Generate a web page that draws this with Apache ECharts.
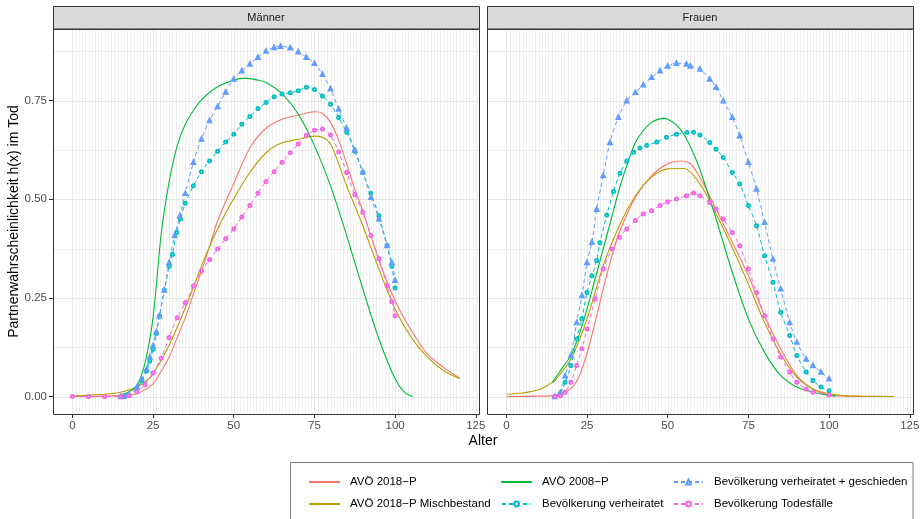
<!DOCTYPE html>
<html><head><meta charset="utf-8">
<script src="https://cdn.jsdelivr.net/npm/echarts@6/dist/echarts.min.js"></script>
<style>html,body{margin:0;padding:0;background:#fff}#c{width:920px;height:519px}</style>
</head><body><div id="c"></div>
<script>
// ---------- data ----------
const panels = ['Männer', 'Frauen'];
const seriesNames = ['AVÖ 2018−P', 'AVÖ 2018−P Mischbestand', 'AVÖ 2008−P',
  'Bevölkerung verheiratet', 'Bevölkerung verheiratet + geschieden', 'Bevölkerung Todesfälle'];
const seriesColors = ['#F8766D', '#B79F00', '#00BA38', '#00BFC4', '#619CFF', '#F564E3'];
const xTicks = [0, 25, 50, 75, 100, 125];
const xTickLabels = ['0', '25', '50', '75', '100', '125'];
const yTicks = [0, 0.25, 0.5, 0.75];
const yTickLabels = ['0.00', '0.25', '0.50', '0.75'];
const yMinorTicks = [0.125, 0.375, 0.625, 0.875];
const xMinorBreaks = Array.from({length: 126}, (_, i) => i); // one fine grid line per year (0..125)

// Männer  [Alter, h(x)]
const m_avo2018 = [[0,0],[10,0.001],[15,0.003],[20,0.007],[23,0.02],[25,0.032],[27,0.057],[30,0.1],[32.5,0.15],[35,0.2],[37.5,0.26],[40,0.318],[42.5,0.38],[45,0.445],[50,0.54],[55,0.63],[60,0.68],[65,0.703],[70,0.713],[75,0.722],[77.5,0.718],[80,0.695],[82.5,0.65],[85,0.59],[87.5,0.525],[90,0.47],[95,0.345],[100,0.243],[105,0.168],[110,0.108],[115,0.074],[120,0.047]];
const m_avo2018m = [[0,0.002],[10,0.006],[15,0.011],[20,0.024],[23,0.04],[25,0.057],[30,0.13],[35,0.225],[40,0.33],[42.5,0.38],[45,0.425],[50,0.502],[55,0.568],[60,0.618],[65,0.643],[70,0.652],[75,0.66],[77.5,0.657],[80,0.64],[82.5,0.59],[85,0.534],[90,0.433],[95,0.323],[100,0.222],[105,0.15],[110,0.1],[115,0.066],[120,0.045]];
const m_avo2008 = [[15,0.004],[17.5,0.012],[20,0.028],[22.5,0.085],[25,0.2],[27.5,0.41],[30,0.545],[32.5,0.636],[35,0.69],[37.5,0.725],[40,0.752],[45,0.785],[50,0.802],[53.5,0.807],[57.5,0.802],[60,0.796],[65,0.767],[70,0.716],[75,0.636],[80,0.534],[85,0.408],[90,0.273],[95,0.146],[100,0.045],[103,0.01],[105.5,0]];
const m_verh = [[15,0],[16,0.001],[17.5,0.004],[20,0.02],[21.5,0.04],[23,0.065],[24,0.09],[25,0.12],[26,0.16],[27,0.205],[28.5,0.27],[30,0.33],[31,0.36],[32.3,0.416],[33.5,0.45],[35,0.49],[37.5,0.534],[40,0.57],[42.5,0.597],[45,0.622],[47.5,0.645],[50,0.665],[52.5,0.69],[55,0.71],[57.5,0.73],[60,0.745],[62.5,0.76],[65,0.767],[67.5,0.77],[70,0.775],[72.5,0.784],[75,0.778],[77.5,0.762],[80,0.741],[82.5,0.707],[85,0.67],[87.5,0.622],[90,0.568],[92.5,0.515],[95,0.458],[97.5,0.383],[99,0.33],[100,0.275]];
const m_verhg = [[15,0],[16,0.001],[17.5,0.005],[20,0.024],[21.5,0.045],[23,0.07],[24,0.1],[25,0.129],[26,0.165],[27,0.205],[28.5,0.27],[30,0.34],[31.7,0.408],[33.3,0.458],[35,0.515],[37.5,0.594],[40,0.653],[42.5,0.7],[45,0.735],[47.5,0.772],[50,0.805],[52.5,0.826],[55,0.843],[57.5,0.86],[60,0.876],[62.5,0.885],[64.5,0.888],[67.5,0.884],[70,0.874],[72.5,0.86],[75,0.845],[77.5,0.817],[80,0.78],[82.5,0.729],[85,0.68],[87.5,0.625],[90,0.57],[92.5,0.505],[95,0.45],[97.5,0.383],[99,0.34],[100,0.295]];
const m_tod = [[0,0],[5,0],[10,0],[15,0],[17.5,0.002],[20,0.012],[22.5,0.03],[25,0.06],[27.5,0.097],[30,0.15],[32.5,0.2],[35,0.238],[37.5,0.28],[40,0.318],[42.5,0.347],[45,0.374],[47.5,0.4],[50,0.425],[52.5,0.455],[55,0.484],[57.5,0.515],[60,0.545],[62.5,0.57],[65,0.594],[67.5,0.618],[70,0.64],[72.5,0.662],[75,0.675],[77.5,0.678],[80,0.663],[82.5,0.62],[85,0.568],[87.5,0.512],[90,0.467],[92.5,0.408],[95,0.349],[97.5,0.281],[99,0.24],[100,0.205]];

// Frauen  [Alter, h(x)]
const f_avo2018 = [[0,0],[10,0.001],[15,0.003],[20,0.02],[22.5,0.05],[25,0.11],[27.5,0.188],[30,0.273],[32.5,0.35],[35,0.416],[40,0.505],[45,0.56],[50,0.59],[54,0.597],[57,0.59],[60,0.555],[65,0.475],[70,0.391],[75,0.306],[80,0.205],[85,0.121],[90,0.053],[95,0.019],[100,0.004],[105,0.001],[110,0],[120,0]];
const f_avo2018m = [[0,0.006],[5,0.009],[10,0.017],[14,0.035],[15,0.04],[20,0.095],[25,0.197],[30,0.332],[35,0.433],[40,0.509],[45,0.556],[50,0.577],[55,0.578],[60,0.539],[65,0.463],[70,0.378],[75,0.285],[80,0.188],[85,0.108],[90,0.049],[95,0.019],[100,0.007],[105,0.002],[110,0.001],[120,0]];
const f_avo2008 = [[14.2,0.035],[15,0.045],[16.7,0.065],[18,0.08],[20,0.104],[22.5,0.155],[25,0.222],[27.5,0.298],[30,0.374],[32.5,0.45],[35,0.526],[37.5,0.59],[40,0.644],[42.5,0.675],[45,0.695],[48.7,0.705],[50,0.703],[52.5,0.69],[55,0.665],[57.5,0.625],[60,0.575],[65,0.45],[70,0.315],[75,0.197],[80,0.112],[85,0.053],[90,0.024],[95,0.011],[100,0.003],[102,0.001]];
const f_verh = [[15,0],[16.7,0.007],[18.2,0.036],[20,0.079],[21.8,0.146],[23.4,0.197],[25,0.264],[26.5,0.306],[28,0.345],[29,0.39],[31.1,0.46],[33.2,0.52],[35.2,0.566],[37.3,0.597],[39.4,0.619],[41.4,0.63],[43.5,0.637],[46.6,0.645],[49.6,0.657],[52.7,0.665],[56,0.669],[58,0.67],[60,0.663],[63,0.644],[65,0.627],[67.2,0.606],[70,0.568],[72.3,0.539],[75,0.484],[77.5,0.433],[80,0.357],[82.6,0.29],[85,0.214],[87.8,0.155],[90,0.104],[92.9,0.062],[95,0.041],[97.5,0.024],[100,0.015]];
const f_verhg = [[15,0],[16.7,0.01],[18.2,0.053],[20,0.104],[21.8,0.188],[23.4,0.256],[25,0.34],[26.5,0.391],[28,0.475],[30,0.56],[32.1,0.644],[34.7,0.708],[37.3,0.75],[40,0.771],[42.4,0.79],[45,0.809],[47.6,0.826],[50,0.838],[52.7,0.845],[55.8,0.843],[57,0.838],[60,0.83],[63,0.805],[65,0.784],[67.2,0.75],[70,0.708],[72.3,0.661],[75,0.594],[77.5,0.526],[80,0.442],[82.6,0.349],[85,0.273],[87.8,0.188],[90,0.138],[92.9,0.095],[95,0.079],[97.5,0.062],[100,0.045]];
const f_tod = [[15,0],[16.7,0.002],[18.2,0.011],[20,0.036],[21.8,0.079],[23.4,0.121],[25,0.171],[27.5,0.247],[30,0.323],[32.7,0.374],[35,0.404],[37.3,0.425],[40,0.446],[42.4,0.463],[45,0.471],[47.6,0.484],[50,0.494],[52.7,0.501],[55.8,0.509],[58,0.516],[60,0.509],[63,0.492],[65,0.475],[67.2,0.45],[70,0.416],[72.3,0.382],[75,0.323],[77.5,0.264],[80,0.205],[82.6,0.146],[85,0.1],[87.8,0.062],[90,0.036],[92.9,0.019],[95,0.011],[100,0.004]];

const panelData = [
  [m_avo2018, m_avo2018m, m_avo2008, m_verh, m_verhg, m_tod],
  [f_avo2018, f_avo2018m, f_avo2008, f_verh, f_verhg, f_tod]
];

// ---------- layout ----------
const FONT = '"Liberation Sans", Arial, Helvetica, sans-serif';
const X_MIN = -6, X_MAX = 126, Y_MIN = -0.0442, Y_MAX = 0.9316;
const gridBoxes = [
  {left: 53, top: 29, width: 426, height: 385},
  {left: 487, top: 29, width: 426, height: 385}
];
const lineKinds = ['solid', 'solid', 'solid', 'dashed', 'dashed', 'dashed'];
const symbols = ['none', 'none', 'none', 'emptyCircle', 'emptyTriangle', 'emptyCircle'];
const symbolSizes = [0, 0, 0, 3, 3.5, 3];

const chart = echarts.init(document.getElementById('c'), null, {renderer: 'canvas'});

const grids = gridBoxes.map(g => Object.assign({show: false, outerBoundsMode: 'none', containLabel: false}, g));
const xAxes = [], yAxes = [];
gridBoxes.forEach((g, i) => {
  xAxes.push({
    type: 'value', gridIndex: i, min: X_MIN, max: X_MAX, position: 'bottom',
    axisLine: {show: false, onZero: false},
    axisTick: {show: true, length: 4, customValues: xTicks, lineStyle: {color: '#333333', width: 1}},
    axisLabel: {show: true, customValues: xTicks, margin: 6, color: '#4d4d4d', fontSize: 11.5, fontFamily: FONT,
      formatter: v => xTickLabels[xTicks.indexOf(v)]},
    splitLine: {show: false}, minorSplitLine: {show: false}
  });
  yAxes.push({
    type: 'value', gridIndex: i, min: Y_MIN, max: Y_MAX, position: 'left',
    axisLine: {show: false, onZero: false},
    axisTick: {show: i === 0, length: 4, customValues: yTicks, lineStyle: {color: '#333333', width: 1}},
    axisLabel: {show: i === 0, customValues: yTicks, margin: 6, color: '#4d4d4d', fontSize: 11.5, fontFamily: FONT,
      formatter: v => yTickLabels[yTicks.indexOf(v)]},
    splitLine: {show: false}, minorSplitLine: {show: false}
  });
});

const series = [];
const hLines = yTicks.map(v => [0, v, 1]).concat(yMinorTicks.map(v => [0, v, 0]));
const vLines = xMinorBreaks.map(v => [v, 0, xTicks.indexOf(v) >= 0 ? 1 : 0]);
gridBoxes.forEach((g, p) => {
  series.push({
    type: 'custom', xAxisIndex: p, yAxisIndex: p, silent: true, z: 1, data: vLines, animation: false,
    renderItem: (params, api) => {
      const cs = params.coordSys;
      const x = Math.round(api.coord([api.value(0), 0])[0]) + 0.5;
      return {type: 'line', shape: {x1: x, y1: cs.y + 1, x2: x, y2: cs.y + cs.height - 1},
        style: {stroke: api.value(2) ? '#e8e8e8' : '#f0f0f0', lineWidth: 1}};
    }
  });
  series.push({
    type: 'custom', xAxisIndex: p, yAxisIndex: p, silent: true, z: 1, data: hLines, animation: false,
    renderItem: (params, api) => {
      const cs = params.coordSys;
      const y = Math.round(api.coord([0, api.value(1)])[1]) + 0.5;
      return {type: 'line', shape: {x1: cs.x + 1, y1: y, x2: cs.x + cs.width - 1, y2: y},
        style: {stroke: api.value(2) ? '#e6e6e6' : '#ececec', lineWidth: 1}};
    }
  });
  panelData[p].forEach((d, s) => {
    const dashed = lineKinds[s] === 'dashed';
    series.push({
      type: 'line', name: seriesNames[s], xAxisIndex: p, yAxisIndex: p, z: 3,
      data: d, smooth: 0.3, clip: true,
      symbol: symbols[s], symbolSize: symbolSizes[s], showSymbol: dashed,
      lineStyle: {color: seriesColors[s], width: dashed ? 1 : 1.1, type: dashed ? [4, 3] : 'solid'},
      itemStyle: {color: seriesColors[s], borderColor: seriesColors[s], borderWidth: 1},
      emphasis: {disabled: true}, animation: false
    });
  });
});

const graphics = [];
gridBoxes.forEach((g, p) => {
  graphics.push({type: 'rect', z: 50, silent: true,
    shape: {x: g.left + 0.5, y: 6.5, width: g.width, height: g.top - 6.5},
    style: {fill: '#d9d9d9', stroke: '#333333', lineWidth: 1}});
  graphics.push({type: 'text', z: 51, silent: true,
    style: {text: panels[p], x: g.left + g.width / 2, y: (6.5 + g.top) / 2 + 0.5, textAlign: 'center', textVerticalAlign: 'middle',
      font: '11px ' + FONT, fill: '#1a1a1a'}});
  graphics.push({type: 'rect', z: 50, silent: true,
    shape: {x: g.left + 0.5, y: g.top + 0.5, width: g.width, height: g.height},
    style: {fill: 'none', stroke: '#333333', lineWidth: 1}});
});
graphics.push({type: 'text', z: 50, silent: true, rotation: Math.PI / 2, x: 14, y: 221.5,
  style: {text: 'Partnerwahrscheinlichkeit h(x) im Tod', x: 0, y: 0, textAlign: 'center', textVerticalAlign: 'middle',
    font: '14px ' + FONT, fill: '#000000'}});
graphics.push({type: 'text', z: 50, silent: true,
  style: {text: 'Alter', x: 483, y: 441, textAlign: 'center', textVerticalAlign: 'middle', font: '14px ' + FONT, fill: '#000000'}});
graphics.push({type: 'rect', z: 50, silent: true,
  shape: {x: 290.5, y: 462.5, width: 622.5, height: 80},
  style: {fill: 'none', stroke: '#7f7f7f', lineWidth: 1}});

const flatIcon = 'path://M0,0H10V0.01H0Z';
const legendBase = {orient: 'vertical', top: 476, padding: 0, itemWidth: 29, itemHeight: 6, itemGap: 10,
  selectedMode: false, textStyle: {fontSize: 11.5, fontFamily: FONT, color: '#000000', padding: [0, 0, 0, 6]}};
const legendItem = i => (lineKinds[i] === 'solid' ? {name: seriesNames[i], icon: flatIcon} : {name: seriesNames[i]});
const legends = [
  Object.assign({left: 309, data: [legendItem(0), legendItem(1)]}, legendBase),
  Object.assign({left: 501, data: [legendItem(2), legendItem(3)]}, legendBase),
  Object.assign({left: 673, data: [legendItem(4), legendItem(5)]}, legendBase)
];

chart.setOption({
  animation: false,
  backgroundColor: '#ffffff',
  grid: grids, xAxis: xAxes, yAxis: yAxes,
  legend: legends,
  series: series,
  graphic: {elements: graphics}
});
</script></body></html>
